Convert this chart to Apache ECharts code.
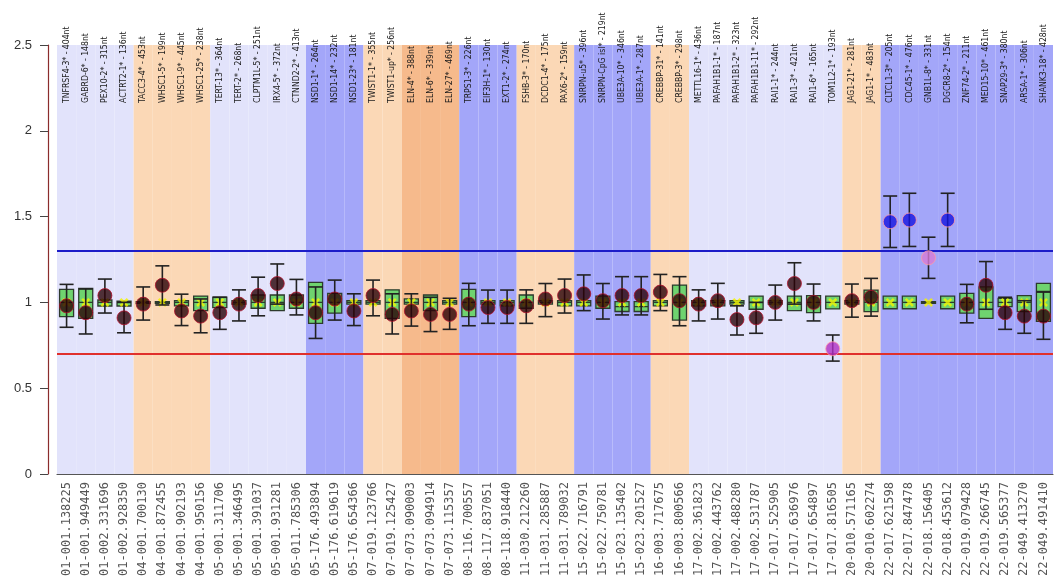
<!DOCTYPE html>
<html>
<head>
  <meta charset="utf-8" />
  <title>MLPA ratio chart</title>
  <script src="https://cdn.jsdelivr.net/npm/echarts@6/dist/echarts.min.js"></script>
  <style>
    html, body { margin: 0; padding: 0; background: #fff; }
    #container { width: 1059px; height: 582px; }
  </style>
</head>
<body>
  <div id="container"></div>
  <script>
    // probe names (top) and chromosome positions (bottom)
    var probes = ['TNFRSF4-3* - 404nt', 'GABRD-6* - 148nt', 'PEX10-2* - 315nt', 'ACTRT2-1* - 136nt',
      'TACC3-4* - 453nt', 'WHSC1-5* - 199nt', 'WHSC1-9* - 445nt', 'WHSC1-25* - 238nt',
      'TERT-13* - 364nt', 'TERT-2* - 268nt', 'CLPTM1L-5* - 251nt', 'IRX4-5* - 372nt', 'CTNND2-2* - 413nt',
      'NSD1-1* - 264nt', 'NSD1-14* - 232nt', 'NSD1-23* - 181nt',
      'TWIST1-1* - 355nt', 'TWIST1-up* - 256nt',
      'ELN-4* - 388nt', 'ELN-6* - 339nt', 'ELN-27* - 469nt',
      'TRPS1-3* - 226nt', 'EIF3H-1* - 130nt', 'EXT1-2* - 274nt',
      'FSHB-3* - 170nt', 'DCDC1-4* - 175nt', 'PAX6-2* - 159nt',
      'SNRPN-u5* - 396nt', 'SNRPN-CpG isl* - 219nt', 'UBE3A-10* - 346nt', 'UBE3A-1* - 287nt',
      'CREBBP-31* - 141nt', 'CREBBP-3* - 298nt',
      'METTL16-1* - 436nt', 'PAFAH1B1-1* - 187nt', 'PAFAH1B1-2* - 323nt', 'PAFAH1B1-11* - 292nt',
      'RAI1-1* - 244nt', 'RAI1-3* - 421nt', 'RAI1-6* - 165nt', 'TOM1L2-1* - 193nt',
      'JAG1-21* - 281nt', 'JAG1-1* - 483nt',
      'CLTCL1-3* - 205nt', 'CDC45-1* - 476nt', 'GNB1L-8* - 331nt', 'DGCR8-2* - 154nt',
      'ZNF74-2* - 211nt', 'MED15-10* - 461nt', 'SNAP29-3* - 380nt', 'ARSA-1* - 306nt', 'SHANK3-18* - 428nt'];

    var positions = ['01-001.138225', '01-001.949449', '01-002.331696', '01-002.928350',
      '04-001.700130', '04-001.872455', '04-001.902193', '04-001.950156',
      '05-001.311706', '05-001.346495', '05-001.391037', '05-001.931281', '05-011.785306',
      '05-176.493894', '05-176.619619', '05-176.654366',
      '07-019.123766', '07-019.125427',
      '07-073.090003', '07-073.094914', '07-073.115357',
      '08-116.700557', '08-117.837051', '08-118.918440',
      '11-030.212260', '11-031.285887', '11-031.789032',
      '15-022.716791', '15-022.750781', '15-023.135402', '15-023.201527',
      '16-003.717675', '16-003.800566',
      '17-002.361823', '17-002.443762', '17-002.488280', '17-002.531787',
      '17-017.525905', '17-017.636976', '17-017.654897', '17-017.816505',
      '20-010.571165', '20-010.602274',
      '22-017.621598', '22-017.847478', '22-018.156405', '22-018.453612',
      '22-019.079428', '22-019.266745', '22-019.565377', '22-049.413270', '22-049.491410'];

    // background group of each probe: 0 lavender, 1 light orange, 2 blue, 3 dark orange
    var bandGroups = [0, 0, 0, 0, 1, 1, 1, 1, 0, 0, 0, 0, 0, 2, 2, 2, 1, 1, 3, 3, 3, 2, 2, 2, 1, 1, 1,
      2, 2, 2, 2, 1, 1, 0, 0, 0, 0, 0, 0, 0, 0, 1, 1, 2, 2, 2, 2, 2, 2, 2, 2, 2];
    var bandColors = ['#e2e3fb', '#fbd8b6', '#a3a6f9', '#f6ba8c'];

    // sample ratio and its error bar
    var ratio = [0.98, 0.94, 1.04, 0.91, 0.99, 1.10, 0.95, 0.92, 0.94, 0.99, 1.04, 1.11, 1.02,
      0.94, 1.02, 0.95, 1.04, 0.93, 0.95, 0.93, 0.93, 0.99, 0.97, 0.97, 0.98, 1.02, 1.04,
      1.05, 1.01, 1.04, 1.04, 1.06, 1.01, 0.99, 1.01, 0.90, 0.91, 1.00, 1.11, 1.00, 0.73,
      1.01, 1.03, 1.47, 1.48, 1.26, 1.48, 0.99, 1.10, 0.94, 0.92, 0.92];
    var errLow = [0.855, 0.816, 0.938, 0.823, 0.897, 0.985, 0.865, 0.823, 0.843, 0.892, 0.922, 0.99, 0.927,
      0.79, 0.897, 0.865, 0.922, 0.816, 0.862, 0.83, 0.843, 0.864, 0.878, 0.878, 0.878, 0.917, 0.938,
      0.952, 0.903, 0.927, 0.927, 0.952, 0.864, 0.892, 0.903, 0.81, 0.82, 0.897, 0.99, 0.892, 0.658,
      0.914, 0.92, 1.32, 1.326, 1.14, 1.326, 0.881, 0.96, 0.843, 0.82, 0.785];
    var errHigh = [1.105, 1.078, 1.136, 1.0, 1.09, 1.213, 1.048, 1.02, 1.03, 1.073, 1.147, 1.224, 1.134,
      1.09, 1.13, 1.05, 1.13, 1.05, 1.05, 1.03, 1.024, 1.111, 1.072, 1.072, 1.073, 1.11, 1.136,
      1.16, 1.11, 1.15, 1.15, 1.163, 1.15, 1.073, 1.111, 0.98, 1.0, 1.101, 1.231, 1.107, 0.81,
      1.107, 1.14, 1.62, 1.636, 1.38, 1.636, 1.105, 1.238, 1.03, 1.01, 1.06];

    // reference sample boxes
    var boxLow = [0.917, 0.907, 0.979, 0.979, 0.995, 0.995, 0.98, 0.952, 0.969, 0.99, 0.966, 0.952, 0.966,
      0.878, 0.938, 0.99, 0.99, 0.907, 0.99, 0.952, 0.99, 0.917, 0.99, 0.98, 0.966, 0.99, 0.98,
      0.98, 0.966, 0.947, 0.947, 0.98, 0.897, 0.98, 0.98, 0.99, 0.96, 0.99, 0.952, 0.94, 0.962,
      0.99, 0.946, 0.963, 0.963, 0.995, 0.963, 0.938, 0.907, 0.975, 0.946, 0.89];
    var boxMid = [1.0, 1.0, 1.0, 1.0, 1.0, 1.0, 1.0, 1.0, 1.0, 1.0, 1.0, 1.0, 1.0,
      1.0, 1.0, 1.0, 1.0, 1.0, 1.0, 1.0, 1.0, 1.0, 1.0, 1.0, 1.0, 1.0, 1.0,
      1.0, 1.0, 0.975, 0.975, 1.0, 1.0, 1.0, 1.0, 1.0, 1.0, 1.0, 1.0, 1.0, 1.0,
      1.0, 1.0, 1.0, 1.0, 1.0, 1.0, 1.0, 1.0, 1.0, 1.0, 1.064];
    var boxHigh = [1.076, 1.082, 1.014, 1.008, 1.005, 1.005, 1.01, 1.037, 1.03, 1.01, 1.043, 1.043, 1.043,
      1.117, 1.053, 1.01, 1.01, 1.073, 1.02, 1.043, 1.01, 1.076, 1.01, 1.01, 1.043, 1.01, 1.01,
      1.01, 1.037, 1.005, 1.005, 1.01, 1.101, 1.01, 1.01, 1.01, 1.037, 1.01, 1.037, 1.04, 1.036,
      1.01, 1.072, 1.036, 1.036, 1.005, 1.036, 1.053, 1.09, 1.024, 1.04, 1.111];
    var refMean = 1.0;

    var upperLimit = 1.3;
    var lowerLimit = 0.7;
    var yMax = 2.5;

    function dotColor(v) {
      if (v >= upperLimit) return '#1414e0';
      if (v >= 1.2) return '#d77ad6';
      if (v <= 0.75) return '#b02ec4';
      return '#2a0208';
    }

    var myChart = echarts.init(document.getElementById('container'));

    // error bar: vertical line with caps
    function renderErr(params, api) {
      var lo = api.coord([api.value(0), api.value(1)]);
      var hi = api.coord([api.value(0), api.value(2)]);
      var w = 7;
      var st = { stroke: '#222', lineWidth: 1.6 };
      return {
        type: 'group',
        children: [
          { type: 'line', shape: { x1: lo[0], y1: lo[1], x2: hi[0], y2: hi[1] }, style: st },
          { type: 'line', shape: { x1: lo[0] - w, y1: lo[1], x2: lo[0] + w, y2: lo[1] }, style: st },
          { type: 'line', shape: { x1: hi[0] - w, y1: hi[1], x2: hi[0] + w, y2: hi[1] }, style: st }
        ]
      };
    }

    var xMark = 'path://M0,2L2,0L5,3L8,0L10,2L7,5L10,8L8,10L5,7L2,10L0,8L3,5Z';

    var option = {
      backgroundColor: '#fff',
      animation: false,
      grid: { left: 57, right: 6, top: 45, bottom: 108 },
      xAxis: [{
        type: 'category',
        position: 'bottom',
        data: positions,
        axisLine: { lineStyle: { color: '#555', width: 1.2 } },
        axisTick: { alignWithLabel: true, length: 7, lineStyle: { color: '#555' } },
        axisLabel: {
          interval: 0, rotate: 90, margin: 8,
          fontFamily: 'DejaVu Sans Mono', fontSize: 12, color: '#555'
        }
      }, {
        type: 'category',
        position: 'top',
        offset: -58,
        data: probes,
        axisLine: { show: false },
        axisTick: { show: false },
        axisLabel: {
          interval: 0, rotate: -90, margin: 0,
          fontFamily: '"Liberation Sans Narrow", "DejaVu Sans Condensed", "Liberation Sans"',
          fontSize: 8.6, color: '#1a1a1a'
        }
      }],
      yAxis: {
        type: 'value',
        min: 0, max: yMax, interval: 0.5,
        offset: 9,
        splitLine: { show: false },
        axisLine: { show: true, lineStyle: { color: '#8b2c2c', width: 1.2 } },
        axisTick: { show: true, length: 8, lineStyle: { color: '#444' } },
        axisLabel: { margin: 16, fontFamily: 'Liberation Sans', fontSize: 13, color: '#333' }
      },
      series: [{
        // coloured background bands
        type: 'bar',
        barWidth: '100%',
        silent: true,
        z: 0,
        data: positions.map(function () { return yMax; }),
        itemStyle: {
          color: function (p) { return bandColors[bandGroups[p.dataIndex]]; }
        },
        markLine: {
          silent: true,
          symbol: 'none',
          label: { show: false },
          data: [
            { yAxis: upperLimit, lineStyle: { color: '#1c1cc8', width: 2, type: 'solid' } },
            { yAxis: lowerLimit, lineStyle: { color: '#e0302c', width: 2, type: 'solid' } }
          ]
        }
      }, {
        type: 'boxplot',
        z: 3,
        boxWidth: [14, 14],
        silent: true,
        itemStyle: { color: '#6fd36f', borderColor: '#2d3a2d', borderWidth: 1.3 },
        data: boxLow.map(function (lo, i) {
          return [lo, lo, boxMid[i], boxHigh[i], boxHigh[i]];
        })
      }, {
        type: 'scatter',
        z: 4,
        silent: true,
        symbol: xMark,
        symbolSize: 9,
        itemStyle: { color: '#f4f400' },
        data: positions.map(function (p, i) { return [i, refMean]; })
      }, {
        type: 'custom',
        z: 5,
        silent: true,
        renderItem: renderErr,
        data: errLow.map(function (lo, i) { return [i, lo, errHigh[i]]; })
      }, {
        type: 'scatter',
        z: 6,
        silent: true,
        symbolSize: 14,
        data: ratio.map(function (v, i) {
          return {
            value: [i, v],
            itemStyle: { color: dotColor(v), borderColor: v > 1.2 || v < 0.75 ? '#ff9aa8' : '#b0102a', borderWidth: 1 }
          };
        })
      }]
    };

    myChart.setOption(option);
  </script>
</body>
</html>
